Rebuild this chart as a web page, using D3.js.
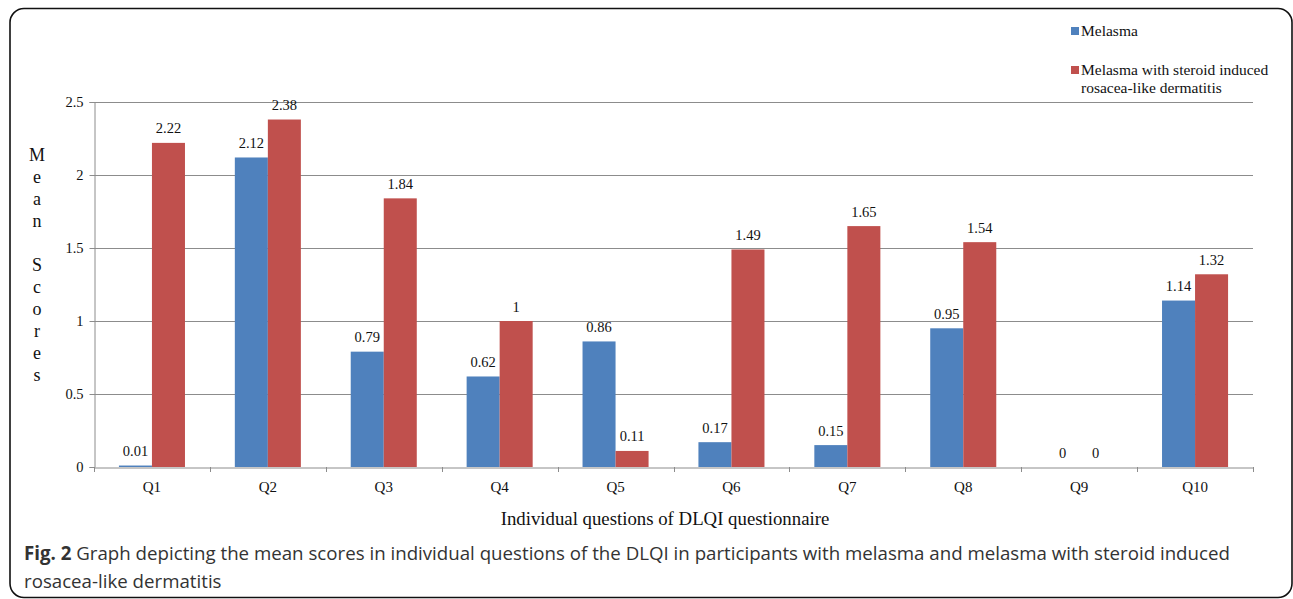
<!DOCTYPE html>
<html>
<head>
<meta charset="utf-8">
<script src="https://cdn.jsdelivr.net/npm/d3@7/dist/d3.min.js"></script>
<style>
  html, body { margin: 0; padding: 0; background: #fff; }
  svg { display: block; }
</style>
</head>
<body>
<svg id="chart" width="1293" height="599"></svg>
<script>
// DLQI item mean scores for the two participant groups
const questions = ["Q1", "Q2", "Q3", "Q4", "Q5", "Q6", "Q7", "Q8", "Q9", "Q10"];
const seriesNames = ["Melasma", "Melasma with steroid induced rosacea-like dermatitis"];
const melasma = [0.01, 2.12, 0.79, 0.62, 0.86, 0.17, 0.15, 0.95, 0, 1.14];
const melasmaSird = [2.22, 2.38, 1.84, 1, 0.11, 1.49, 1.65, 1.54, 0, 1.32];
const yTicks = [0, 0.5, 1, 1.5, 2, 2.5];
const colors = ["#4F81BD", "#C0504D"];

const svg = d3.select("#chart");
const serif = "'Liberation Serif', 'Times New Roman', serif";

// Outer rounded frame
svg.append("rect")
  .attr("x", 10).attr("y", 8.5)
  .attr("width", 1282).attr("height", 589)
  .attr("rx", 14).attr("ry", 14)
  .attr("fill", "none").attr("stroke", "#111").attr("stroke-width", 1.6);

const plot = { left: 94, right: 1253, top: 102, bottom: 467 };

const x0 = d3.scaleBand().domain(questions).range([plot.left, plot.right]).padding(0);
const x1 = d3.scaleBand().domain(seriesNames).range([0, x0.bandwidth()]).paddingInner(0).paddingOuter(0.755);
const y = d3.scaleLinear().domain([0, 2.5]).range([plot.bottom, plot.top]);

// Horizontal gridlines
svg.append("g").selectAll("line").data(yTicks.filter(d => d > 0)).join("line")
  .attr("x1", plot.left).attr("x2", plot.right)
  .attr("y1", d => Math.round(y(d)) + 0.5).attr("y2", d => Math.round(y(d)) + 0.5)
  .attr("stroke", "#8c8c8c").attr("stroke-width", 1);

// Y axis
const yAxis = svg.append("g")
  .attr("transform", `translate(${plot.left + 0.5},0)`)
  .call(d3.axisLeft(y).tickValues(yTicks).tickSize(5).tickPadding(6).tickFormat(d3.format("")));
yAxis.select(".domain").attr("stroke", "#8c8c8c");
yAxis.selectAll(".tick line").attr("stroke", "#8c8c8c");
yAxis.selectAll(".tick text").attr("font-family", serif).attr("font-size", 14.5).attr("fill", "#111");

// Bars
const data = questions.map((q, i) => ({ q, values: [melasma[i], melasmaSird[i]] }));
const groups = svg.append("g").selectAll("g").data(data).join("g")
  .attr("transform", d => `translate(${x0(d.q)},0)`);

groups.selectAll("rect").data(d => d.values.map((v, j) => ({ v, s: seriesNames[j], j }))).join("rect")
  .attr("x", d => x1(d.s))
  .attr("width", x1.bandwidth())
  .attr("y", d => y(d.v))
  .attr("height", d => y(0) - y(d.v))
  .attr("fill", d => colors[d.j]);

// Value labels
groups.selectAll("text").data(d => d.values.map((v, j) => ({ v, s: seriesNames[j] }))).join("text")
  .attr("x", d => x1(d.s) + x1.bandwidth() / 2)
  .attr("y", d => y(d.v) - 9.5)
  .attr("text-anchor", "middle")
  .attr("font-family", serif).attr("font-size", 14.5).attr("fill", "#111")
  .text(d => d3.format("")(d.v));

// X axis
const xAxis = svg.append("g")
  .attr("transform", `translate(0,${plot.bottom + 0.5})`)
  .call(d3.axisBottom(x0).tickSize(0).tickPadding(14));
xAxis.select(".domain").attr("stroke", "#8c8c8c");
xAxis.selectAll(".tick text").attr("font-family", serif).attr("font-size", 15).attr("fill", "#111");
// Category boundary ticks
svg.append("g").selectAll("line").data(questions.concat(["end"])).join("line")
  .attr("x1", (d, i) => Math.round(i < questions.length ? x0(d) : plot.right) + 0.5)
  .attr("x2", (d, i) => Math.round(i < questions.length ? x0(d) : plot.right) + 0.5)
  .attr("y1", plot.bottom).attr("y2", plot.bottom + 5)
  .attr("stroke", "#8c8c8c");

// Axis titles
svg.append("text")
  .attr("x", 665).attr("y", 525)
  .attr("text-anchor", "middle")
  .attr("font-family", serif).attr("font-size", 18.8).attr("fill", "#111")
  .text("Individual questions of DLQI questionnaire");

const yTitle = "Mean Scores".split("");
svg.append("g").selectAll("text").data(yTitle).join("text")
  .attr("x", 37).attr("y", (d, i) => 161 + i * 22)
  .attr("text-anchor", "middle")
  .attr("font-family", serif).attr("font-size", 18).attr("fill", "#111")
  .text(d => d);

// Legend
const legend = svg.append("g");
const legendRows = [
  { lines: ["Melasma"], y: 27 },
  { lines: ["Melasma with steroid induced", "rosacea-like dermatitis"], y: 66 }
];
legendRows.forEach((r, i) => {
  legend.append("rect").attr("x", 1071).attr("y", r.y).attr("width", 8).attr("height", 8).attr("fill", colors[i]);
  r.lines.forEach((t, k) => {
    legend.append("text")
      .attr("x", 1081).attr("y", r.y + 9 + k * 18)
      .attr("font-family", serif).attr("font-size", 15.5).attr("fill", "#111")
      .text(t);
  });
});

// Figure caption
const cap = svg.append("text")
  .attr("font-family", "'Open Sans', 'Noto Sans', sans-serif").attr("font-size", 18.7).attr("fill", "#333");
const line1 = cap.append("tspan").attr("x", 24).attr("y", 560);
line1.append("tspan").attr("font-weight", "bold").text("Fig. 2");
line1.append("tspan").text(" Graph depicting the mean scores in individual questions of the DLQI in participants with melasma and melasma with steroid induced");
cap.append("tspan").attr("x", 24).attr("y", 588).text("rosacea-like dermatitis");
</script>
</body>
</html>
